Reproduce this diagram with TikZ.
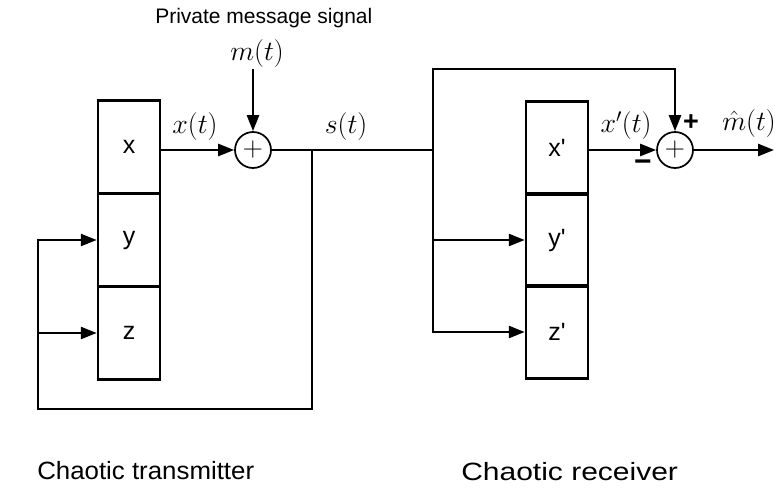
\documentclass[tikz,border=0pt]{standalone}
\usepackage{fontspec}
\setsansfont{Liberation Sans}
\newfontfamily\lsans[Ligatures=TeXOff]{Liberation Sans}
\usetikzlibrary{arrows.meta}
\newcommand{\mlb}[1]{\scalebox{1.12}{$#1$}}
\begin{document}
\begin{tikzpicture}[x=1pt,y=-1pt,
  line width=2.5pt,
  cell/.style={draw, minimum width=62pt, minimum height=93pt, inner sep=0pt,
    font=\lsans\fontsize{25}{30}\selectfont},
  sumnode/.style={draw, circle, minimum size=36pt, inner sep=0pt, line width=1.7pt,
    font=\fontsize{25}{30}\selectfont},
  arr/.style={-{Triangle[length=16pt,width=12pt]}},
  lbl/.style={inner sep=0pt, font=\fontsize{25}{30}\selectfont},
  title/.style={inner sep=0pt, anchor=base west, font=\lsans\fontsize{25}{30}\selectfont},
  ]
\useasboundingbox (0,0) rectangle (776,490);

% transmitter
\node[cell] (x) at (129,147) {x};
\node[cell] (y) at (129,240) {y};
\node[cell] (z) at (129,333) {z};
\node[sumnode] (s1) at (253,150) {\mlb{+}};
\node[lbl] (mlab) at (257,54) {\mlb{m(t)}};
\node[title, font=\lsans\fontsize{21}{25}\selectfont] (pms) at (154,23) {Private message signal};
\node[lbl] (lx) at (195,127) {\mlb{x(t)}};
\node[lbl] (ls) at (346,127) {\mlb{s(t)}};

\coordinate (t1) at (312,150);
\coordinate (j) at (433,150);
\coordinate (bl) at (38,409);

\draw[arr] (x.east |- s1) -- (s1);
\draw[arr] (mlab.south -| s1) -- (s1);
\draw (s1) -- (j);
\draw[arr] (t1) |- (bl) |- (y.west);
\draw[arr] (bl |- z.west) -- (z.west);

% receiver
\node[cell] (xr) at (557,148) {x'};
\node[cell] (yr) at (557,240) {y'};
\node[cell] (zr) at (557,332) {z'};
\node[sumnode] (s2) at (675,150) {\mlb{+}};
\node[lbl] (lxr) at (626,126) {\mlb{x'(t)}};
\node[lbl] (lm) at (749,124) {\mlb{\hat{m}(t)}};
\node[inner sep=0pt, font=\lsans\bfseries\fontsize{27}{30}\selectfont] (plus) at (691,123) {+};
\node[inner sep=0pt, font=\lsans\bfseries\fontsize{30}{34}\selectfont] (minus) at (643,166) {−};

\coordinate (top) at (433,69);
\coordinate (out) at (774,150);

\draw[arr] (j) -- (top) -| (s2);
\draw[arr] (j) |- (zr.west);
\draw[arr] (j |- yr.west) -- (yr.west);
\draw[arr] (xr.east |- s2) -- (s2);
\draw[arr] (s2) -- (out);

% captions
\node[title] (ct) at (36,479) {\scalebox{1.034}[1]{Chaotic transmitter}};
\node[title] (cr) at (460,480) {\scalebox{1.2}[1]{Chaotic receiver}};
\end{tikzpicture}
\end{document}
